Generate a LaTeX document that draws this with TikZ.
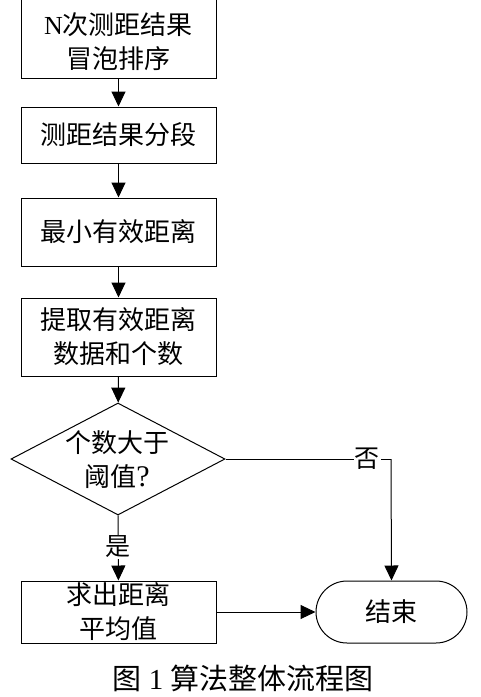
\documentclass[tikz,border=0pt]{standalone}
\usepackage{fontspec}
\setmainfont{Liberation Serif}
\newfontfamily\cjk{Noto Sans CJK SC}
\usetikzlibrary{arrows.meta,shapes.geometric}
\tikzset{
  box/.style={draw, line width=1pt, rectangle, inner sep=0pt, minimum width=195pt},
  txt/.style={align=center, inner sep=0pt, font=\fontsize{26}{34}\selectfont},
  arr/.style={line width=1pt, -{Triangle[length=15pt,width=14pt]}},
  ln/.style={line width=1pt},
  lbl/.style={fill=white, inner sep=1pt, font=\fontsize{25}{30}\selectfont}
}
\begin{document}
\begin{tikzpicture}[x=1pt,y=-1pt]
\useasboundingbox (0,0) rectangle (481,697);
% box 1 (top cut off)
\node[box, minimum height=86pt] (b1) at (118.5,35) {};
\node[txt] (t1) at (118.5,41.5) {N{\cjk 次测距结果}\\{\cjk 冒泡排序}};
\node[box, minimum height=56pt, txt] (b2) at (118.5,135) {\cjk 测距结果分段};
\node[box, minimum height=68pt, txt] (b3) at (118.5,232) {\cjk 最小有效距离};
\node[box, minimum height=78pt, txt] (b4) at (118.5,337) {\cjk 提取有效距离\\\cjk 数据和个数};
\node[draw, line width=1pt, diamond, inner sep=0pt, minimum width=214pt, minimum height=112pt] (d) at (118,459) {};
\node[txt] (td) at (117,460) {{\cjk 个数大于}\\{\cjk 阈值}\fontsize{30}{34}\selectfont ?};
\node[box, minimum height=62pt, txt] (b5) at (118.5,612) {\cjk 求出距离\\\cjk 平均值};
\node[draw, line width=1pt, rectangle, rounded corners=31pt, minimum width=151pt, minimum height=62pt, inner sep=0pt, txt] (e) at (391.5,612) {\cjk 结束};
\coordinate (c1) at (391,459);
\draw[arr] (b1) -- (b2);
\draw[arr] (b2) -- (b3);
\draw[arr] (b3) -- (b4);
\draw[arr] (b4) -- (d);
\draw[arr] (d) -- (b5);
\draw[ln] (d.east) -- (c1);
\draw[arr] (c1) -- (e.north);
\draw[arr] (b5) -- (e);
\node[lbl] (no) at (367,459) {\cjk 否};
\node[lbl] (yes) at (118,547) {\cjk 是};
\node[inner sep=0pt, font=\fontsize{29}{32}\selectfont] (cap) at (243,678) {{\cjk 图} 1 {\cjk 算法整体流程图}};
\end{tikzpicture}
\end{document}
